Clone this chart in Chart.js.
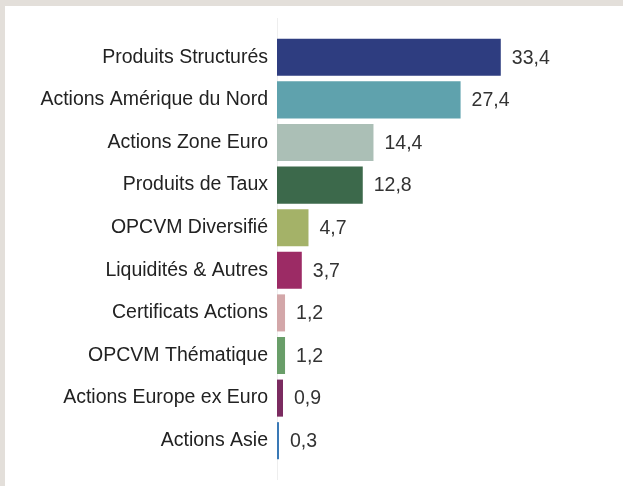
<!DOCTYPE html>
<html>
<head>
<meta charset="utf-8">
<script src="https://cdn.jsdelivr.net/npm/chart.js@4/dist/chart.umd.min.js"></script>
<style>
  html, body { margin: 0; padding: 0; }
  body { width: 623px; height: 486px; background: #e3dfda; position: relative; overflow: hidden; }
  #panel { position: absolute; left: 5px; top: 6px; right: 0; bottom: 0; background: #ffffff; }
  #wrap { position: absolute; left: 0; top: 0; width: 623px; height: 486px; }
</style>
</head>
<body>
<div id="panel"></div>
<div id="wrap"><canvas id="c" width="623" height="486"></canvas></div>
<script>
const categories = [
  "Produits Structurés",
  "Actions Amérique du Nord",
  "Actions Zone Euro",
  "Produits de Taux",
  "OPCVM Diversifié",
  "Liquidités & Autres",
  "Certificats Actions",
  "OPCVM Thématique",
  "Actions Europe ex Euro",
  "Actions Asie"
];
const values = [33.4, 27.4, 14.4, 12.8, 4.7, 3.7, 1.2, 1.2, 0.9, 0.3];
const barColors = [
  "#2e3d80", "#5fa2ad", "#abbfb6", "#3c694b", "#a4b268",
  "#9c2b65", "#d3a7a9", "#699e69", "#7b2b60", "#3a79b6"
];

const FONT = '"Liberation Sans", Arial, sans-serif';

const axisLinePlugin = {
  id: 'axisLine',
  beforeDatasetsDraw(chart) {
    const { ctx, chartArea } = chart;
    const x = chart.scales.x.getPixelForValue(0);
    ctx.save();
    ctx.strokeStyle = '#eeeeee';
    ctx.lineWidth = 1;
    ctx.beginPath();
    ctx.moveTo(x + 0.5, chartArea.top - 18);
    ctx.lineTo(x + 0.5, chartArea.bottom + 18);
    ctx.stroke();
    ctx.restore();
  }
};

const valueLabelPlugin = {
  id: 'valueLabels',
  afterDatasetsDraw(chart) {
    const { ctx } = chart;
    const meta = chart.getDatasetMeta(0);
    ctx.save();
    ctx.font = '19.5px ' + FONT;
    ctx.fillStyle = '#333333';
    ctx.textAlign = 'left';
    ctx.textBaseline = 'middle';
    meta.data.forEach((bar, i) => {
      const txt = values[i].toFixed(1).replace('.', ',');
      ctx.fillText(txt, bar.x + 11, bar.y + 1);
    });
    ctx.restore();
  }
};

new Chart(document.getElementById('c'), {
  type: 'bar',
  data: {
    labels: categories,
    datasets: [{
      data: values,
      backgroundColor: barColors,
      borderWidth: 0,
      barPercentage: 0.87,
      categoryPercentage: 1.0
    }]
  },
  options: {
    indexAxis: 'y',
    responsive: false,
    animation: false,
    layout: { padding: { top: 36, bottom: 24, right: 78, left: 0 } },
    plugins: { legend: { display: false }, tooltip: { enabled: false } },
    scales: {
      x: {
        display: false,
        min: 0,
        max: 40,
        grid: { display: false }
      },
      y: {
        grid: { display: false, drawTicks: false },
        border: { display: false },
        ticks: {
          padding: 9,
          color: '#222222',
          font: { family: FONT, size: 19.5 }
        },
        afterFit(scale) { scale.width = 277; }
      }
    }
  },
  plugins: [axisLinePlugin, valueLabelPlugin]
});
</script>
</body>
</html>
